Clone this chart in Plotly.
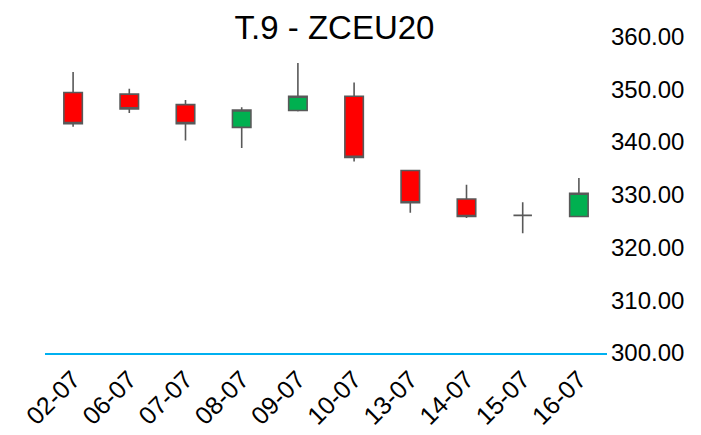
import plotly.graph_objects as go

dates = ["02-07", "06-07", "07-07", "08-07", "09-07", "10-07", "13-07", "14-07", "15-07", "16-07"]
open_ = [349.4, 349.1, 347.1, 342.8, 346.0, 348.7, 334.6, 329.2, 326.1, 325.9]
high = [353.3, 350.1, 348.0, 346.6, 355.0, 351.3, 334.6, 331.9, 328.6, 333.2]
low = [342.9, 345.5, 340.3, 338.9, 345.8, 336.3, 326.6, 325.6, 322.7, 325.9]
close = [343.5, 346.3, 343.5, 346.1, 348.7, 337.1, 328.5, 325.9, 326.1, 330.3]
yticks = [300, 310, 320, 330, 340, 350, 360]

fig = go.Figure(go.Candlestick(
    x=dates, open=open_, high=high, low=low, close=close,
    increasing=dict(fillcolor="#00B050", line=dict(color="#595959", width=1.6)),
    decreasing=dict(fillcolor="#FF0000", line=dict(color="#595959", width=1.6)),
    whiskerwidth=0,
    showlegend=False,
))

fig.update_layout(
    width=701, height=435,
    margin=dict(l=45, r=94, t=34, b=82),
    paper_bgcolor="white", plot_bgcolor="white",
    font=dict(family="Liberation Sans, Arial, sans-serif", color="black"),
    title=dict(text="T.9 - ZCEU20", font=dict(size=33, color="black"),
               x=334.5/701, xref="container", xanchor="center",
               y=1 - 27/435, yref="container", yanchor="middle"),
    boxgap=0.53,
    xaxis=dict(type="category", rangeslider=dict(visible=False),
               showgrid=False, zeroline=False, showline=True,
               linecolor="#00B0F0", linewidth=1.5, automargin=False,
               tickangle=-45, tickfont=dict(size=25), ticks=""),
    yaxis=dict(side="right", range=[300, 360.5], tickvals=yticks,
               tickformat=".2f", showgrid=False, zeroline=False,
               showline=False, ticks="", ticklabelstandoff=3, automargin=False,
               tickfont=dict(size=24)),
)

fig.write_html("out.html", config={"displayModeBar": False},
               post_script="document.body.style.margin='0';document.body.style.overflow='hidden';")
